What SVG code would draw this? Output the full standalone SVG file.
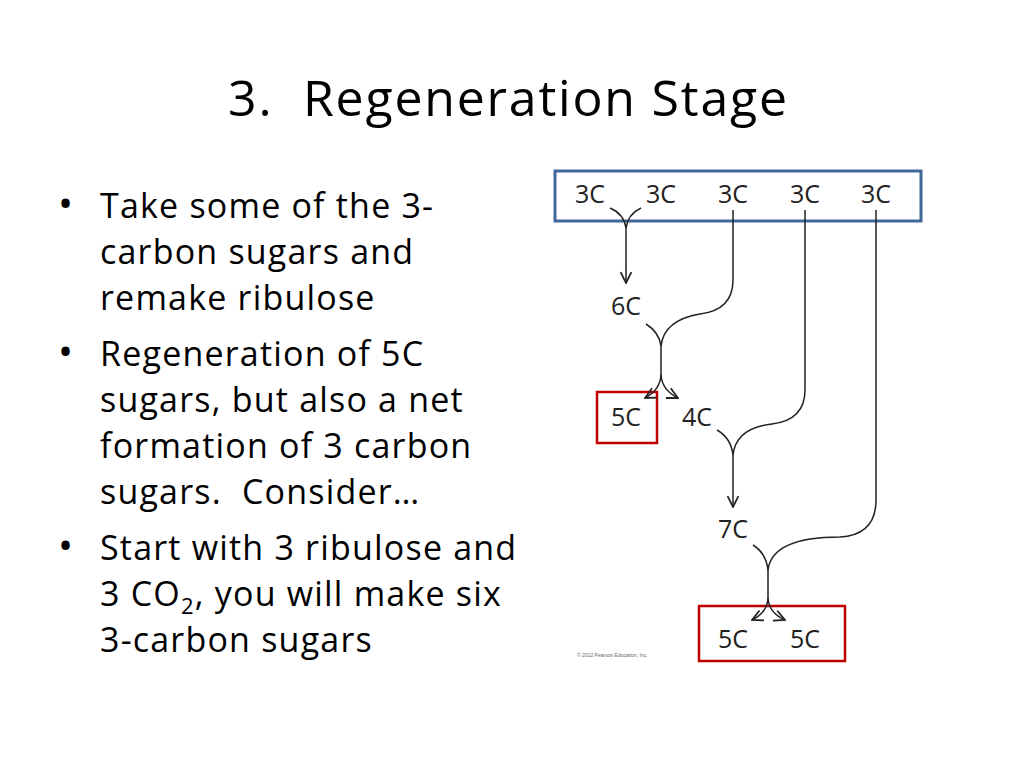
<svg xmlns="http://www.w3.org/2000/svg" width="1024" height="768" viewBox="0 0 1024 768">
<style>
.t{font-family:"Open Sans",sans-serif;fill:#000}
.b{font-size:34px;letter-spacing:1.2px}
.d{font-family:"Open Sans",sans-serif;font-size:25px;fill:#222;text-anchor:middle}
.c{fill:none;stroke:#222;stroke-width:1.5}
</style>
<defs><marker id="a" viewBox="0 0 10 10" refX="9" refY="5" markerWidth="9" markerHeight="9" orient="auto"><path d="M1,1 L9,5 L1,9" fill="none" stroke="#222" stroke-width="1.3"/></marker></defs>
<rect width="1024" height="768" fill="#fff"/>
<text class="t" x="228" y="116" font-size="50" letter-spacing="1.8" xml:space="preserve">3.  Regeneration Stage</text>
<g class="t b">
<text x="58" y="218" font-size="40">•</text><text x="100" y="218">Take some of the 3-</text>
<text x="100" y="264">carbon sugars and</text>
<text x="100" y="310">remake ribulose</text>
<text x="58" y="366" font-size="40">•</text><text x="100" y="366">Regeneration of 5C</text>
<text x="100" y="412">sugars, but also a net</text>
<text x="100" y="458">formation of 3 carbon</text>
<text x="100" y="504" xml:space="preserve">sugars.  Consider…</text>
<text x="58" y="560" font-size="40">•</text><text x="100" y="560">Start with 3 ribulose and</text>
<text x="100" y="606">3 CO<tspan font-size="22" dy="8">2</tspan><tspan dy="-8">, you will make six</tspan></text>
<text x="100" y="652">3-carbon sugars</text>
</g>
<g id="top"><rect x="555" y="171" width="366" height="50" fill="none" stroke="#41689b" stroke-width="3"/>
<text class="d" x="590" y="203">3C</text><text class="d" x="661" y="203">3C</text><text class="d" x="733" y="203">3C</text><text class="d" x="805" y="203">3C</text><text class="d" x="876" y="203">3C</text></g>
<g id="n6"><text class="d" x="626" y="315">6C</text></g>
<g id="n5a"><rect x="597" y="392" width="60" height="51" fill="none" stroke="#c00000" stroke-width="2.5"/><text class="d" x="626" y="426">5C</text></g>
<g id="n4"><text class="d" x="697" y="426">4C</text></g>
<g id="n7"><text class="d" x="733" y="538">7C</text></g>
<g id="n5b"><rect x="699" y="606" width="146" height="55" fill="none" stroke="#c00000" stroke-width="2.5"/><text class="d" x="733" y="648">5C</text><text class="d" x="805" y="648">5C</text></g>
<text x="577" y="657" font-family="Liberation Sans,sans-serif" font-size="5" fill="#666">© 2012 Pearson Education, Inc.</text>
<g id="connectors" class="c">
<path d="M610,208 Q624,214 626,228 Q628,214 641,208"/>
<path d="M626,226 V283" marker-end="url(#a)"/>
<path d="M733,210 V280 Q733,310 700,314 Q664,320 661,346"/>
<path d="M646,324 Q659,332 661,346 V375"/>
<path d="M661,375 Q660,390 645,398" marker-end="url(#a)"/>
<path d="M661,375 Q662,390 678,398" marker-end="url(#a)"/>
<path d="M805,210 V390 Q805,420 772,424 Q736,428 733,455"/>
<path d="M717,430 Q731,438 733,455 V507" marker-end="url(#a)"/>
<path d="M876,210 V500 Q876,535 840,537 Q772,537 768,570"/>
<path d="M753,545 Q766,553 768,570 V598"/>
<path d="M768,598 Q767,613 752,620" marker-end="url(#a)"/>
<path d="M768,598 Q769,613 785,620" marker-end="url(#a)"/>
</g>
</svg>
